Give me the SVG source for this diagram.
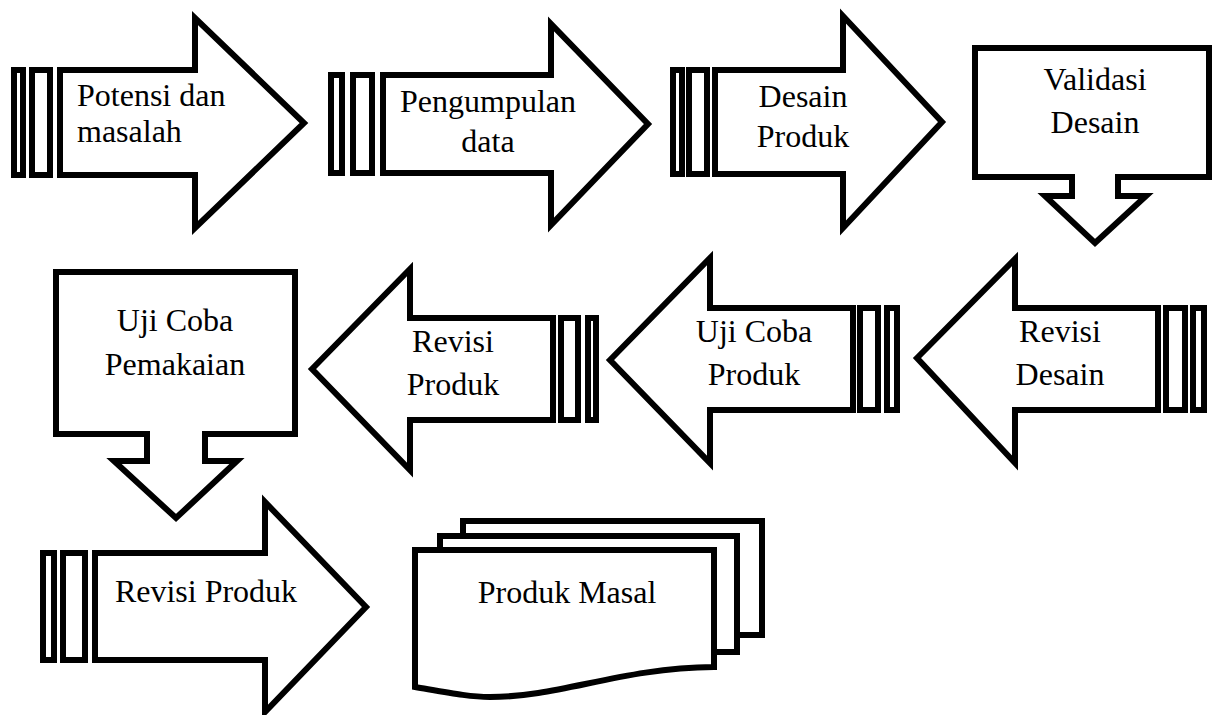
<svg xmlns="http://www.w3.org/2000/svg" width="1216" height="715" viewBox="0 0 1216 715">
<style>
.s{fill:#fff;stroke:#000;stroke-width:6;stroke-linejoin:miter;stroke-miterlimit:10}
text{font-family:"Liberation Serif","Times New Roman",serif;font-size:32px;fill:#000}
.c{text-anchor:middle}
</style>
<rect width="1216" height="715" fill="#fff"/>
<g id="connectors"></g>
<g id="n1">
<rect class="s" x="14" y="70" width="9" height="105"/>
<rect class="s" x="32" y="70" width="18" height="105"/>
<path class="s" d="M60,70 L195,70 L195,18 L304,123 L195,228 L195,175 L60,175 Z"/>
<text x="77" y="106">Potensi dan</text>
<text x="77" y="142">masalah</text>
</g>
<g id="n2">
<rect class="s" x="331" y="75" width="11" height="98"/>
<rect class="s" x="353" y="75" width="19" height="98"/>
<path class="s" d="M383,75 L551,75 L551,24 L648,124 L551,225 L551,173 L383,173 Z"/>
<text class="c" x="488" y="112">Pengumpulan</text>
<text class="c" x="488" y="152">data</text>
</g>
<g id="n3">
<rect class="s" x="673" y="70" width="9" height="104"/>
<rect class="s" x="689" y="70" width="18" height="104"/>
<path class="s" d="M715,70 L843,70 L843,16 L942,122 L843,228 L843,174 L715,174 Z"/>
<text class="c" x="803" y="107">Desain</text>
<text class="c" x="803" y="147">Produk</text>
</g>
<g id="n4">
<path class="s" d="M975,48 L1209,48 L1209,177 L1118,177 L1118,196 L1146,196 L1095,243 L1045,196 L1072,196 L1072,177 L975,177 Z"/>
<text class="c" x="1095" y="90">Validasi</text>
<text class="c" x="1095" y="133">Desain</text>
</g>
<g id="n5">
<path class="s" d="M917,358 L1015,259 L1015,308 L1158,308 L1158,410 L1015,410 L1015,463 Z"/>
<rect class="s" x="1166" y="308" width="19" height="102"/>
<rect class="s" x="1193" y="308" width="11" height="102"/>
<text class="c" x="1060" y="342">Revisi</text>
<text class="c" x="1060" y="385">Desain</text>
</g>
<g id="n6">
<path class="s" d="M610,360 L710,258 L710,308 L853,308 L853,410 L710,410 L710,463 Z"/>
<rect class="s" x="860" y="308" width="18" height="102"/>
<rect class="s" x="887" y="308" width="10" height="102"/>
<text class="c" x="754" y="342">Uji Coba</text>
<text class="c" x="754" y="385">Produk</text>
</g>
<g id="n7">
<path class="s" d="M312,369 L410,269 L410,318 L553,318 L553,420 L410,420 L410,470 Z"/>
<rect class="s" x="561" y="318" width="17" height="102"/>
<rect class="s" x="588" y="318" width="8" height="102"/>
<text class="c" x="453" y="352">Revisi</text>
<text class="c" x="453" y="395">Produk</text>
</g>
<g id="n8">
<path class="s" d="M56,272 L295,272 L295,434 L205,434 L205,461 L237,461 L176,518 L114,461 L147,461 L147,434 L56,434 Z"/>
<text class="c" x="175" y="331">Uji Coba</text>
<text class="c" x="175" y="375">Pemakaian</text>
</g>
<g id="n9">
<rect class="s" x="43" y="553" width="11" height="107"/>
<rect class="s" x="63" y="553" width="22" height="107"/>
<path class="s" d="M95,553 L265,553 L265,502 L366,607 L265,712 L265,660 L95,660 Z"/>
<text class="c" x="206" y="602">Revisi Produk</text>
</g>
<g id="n10">
<rect class="s" x="463" y="521" width="299" height="114"/>
<rect class="s" x="440" y="536" width="297" height="116"/>
<path class="s" d="M415,550 L714,550 L714,667 C620,668 560,697 490,697 C470,697 450,693 415,687 Z"/>
<text class="c" x="567" y="603">Produk Masal</text>
</g>
</svg>
